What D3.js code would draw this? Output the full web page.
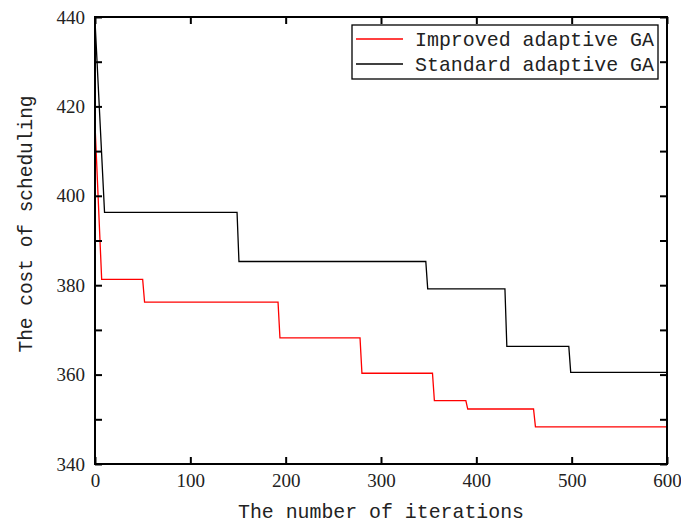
<!DOCTYPE html>
<html>
<head>
<meta charset="utf-8">
<script src="https://cdn.jsdelivr.net/npm/d3@7"></script>
<style>
  body { margin: 0; background: #fff; }
  svg { display: block; }
</style>
</head>
<body>
<div id="chart"></div>
<script>
// ---- data ----
const improvedIter = [0, 7, 50, 52, 192, 194, 278, 280, 354, 356, 389, 391, 460, 462, 600];
const improvedCost = [416, 381.3, 381.3, 376.2, 376.2, 368.2, 368.2, 360.3, 360.3, 354.2, 354.2, 352.3, 352.3, 348.3, 348.3];
const standardIter = [0, 10, 149, 151, 347, 349, 430, 432, 497, 499, 600];
const standardCost = [439.2, 396.3, 396.3, 385.3, 385.3, 379.2, 379.2, 366.3, 366.3, 360.5, 360.5];

const xTicks = [0, 100, 200, 300, 400, 500, 600];
const yTicks = [340, 350, 360, 370, 380, 390, 400, 410, 420, 430, 440];
const yLabels = [340, 360, 380, 400, 420, 440];

const seriesNames = ['Improved adaptive GA', 'Standard adaptive GA'];
const seriesColors = ['#ff0000', '#000000'];

// ---- layout ----
const W = 681, H = 527;
const margin = { top: 17, right: 14, bottom: 63, left: 95 };
const pw = W - margin.left - margin.right;
const ph = H - margin.top - margin.bottom;

const svg = d3.select('#chart').append('svg')
  .attr('width', W).attr('height', H);

const g = svg.append('g').attr('transform', `translate(${margin.left},${margin.top})`);

const x = d3.scaleLinear().domain([0, 600]).range([0, pw]);
const y = d3.scaleLinear().domain([340, 440]).range([ph, 0]);

const serif = '"Liberation Serif", "DejaVu Serif", serif';
const mono = '"Liberation Mono", "DejaVu Sans Mono", monospace';

// lines
const line = d3.line().x(d => x(d[0])).y(d => y(d[1]));
const series = [
  d3.zip(improvedIter, improvedCost),
  d3.zip(standardIter, standardCost)
];
// draw standard first so red sits on top where they overlap
[1, 0].forEach(i => {
  g.append('path')
    .datum(series[i])
    .attr('fill', 'none')
    .attr('stroke', seriesColors[i])
    .attr('stroke-width', 1.3)
    .attr('d', line);
});

// axes (ticks pointing inward, on all four sides)
const tickLen = 7;
g.append('g')
  .attr('transform', `translate(0,${ph})`)
  .call(d3.axisBottom(x).tickValues(xTicks).tickSizeInner(-tickLen).tickSizeOuter(0).tickPadding(10))
  .call(a => a.selectAll('text').attr('font-family', serif).attr('font-size', 19).attr('fill', '#222'));

g.append('g')
  .call(d3.axisTop(x).tickValues(xTicks).tickSizeInner(-tickLen).tickSizeOuter(0).tickFormat(''));

g.append('g')
  .call(d3.axisLeft(y).tickValues(yTicks).tickSizeInner(-tickLen).tickSizeOuter(0).tickPadding(10)
    .tickFormat(d => yLabels.includes(d) ? d : ''))
  .call(a => a.selectAll('text').attr('font-family', serif).attr('font-size', 19).attr('fill', '#222'));

g.append('g')
  .attr('transform', `translate(${pw},0)`)
  .call(d3.axisRight(y).tickValues(yTicks).tickSizeInner(-tickLen).tickSizeOuter(0).tickFormat(''));

g.selectAll('.domain').remove();
g.selectAll('.tick line').attr('stroke', '#000').attr('stroke-width', 2);

// frame
g.append('rect')
  .attr('width', pw).attr('height', ph)
  .attr('fill', 'none').attr('stroke', '#000').attr('stroke-width', 2);

// axis titles
svg.append('text')
  .attr('x', margin.left + pw / 2).attr('y', 518)
  .attr('text-anchor', 'middle')
  .attr('font-family', mono).attr('font-size', 21)
  .attr('textLength', 286).attr('lengthAdjust', 'spacingAndGlyphs')
  .attr('fill', '#222')
  .text('The number of iterations');

svg.append('text')
  .attr('transform', 'translate(32,224) rotate(-90)')
  .attr('text-anchor', 'middle')
  .attr('font-family', mono).attr('font-size', 21)
  .attr('textLength', 257).attr('lengthAdjust', 'spacingAndGlyphs')
  .attr('fill', '#222')
  .text('The cost of scheduling');

// legend
const legend = svg.append('g').attr('transform', 'translate(352,25)');
legend.append('rect')
  .attr('width', 306).attr('height', 54)
  .attr('fill', '#fff').attr('stroke', '#000').attr('stroke-width', 1.3);

seriesNames.forEach((name, i) => {
  const ly = 14 + i * 25;
  legend.append('line')
    .attr('x1', 4).attr('x2', 51).attr('y1', ly).attr('y2', ly)
    .attr('stroke', seriesColors[i]).attr('stroke-width', 1.3);
  legend.append('text')
    .attr('x', 63).attr('y', ly + 7)
    .attr('font-family', mono).attr('font-size', 21)
    .attr('textLength', 239).attr('lengthAdjust', 'spacingAndGlyphs')
    .attr('fill', '#222')
    .text(name);
});
</script>
</body>
</html>
